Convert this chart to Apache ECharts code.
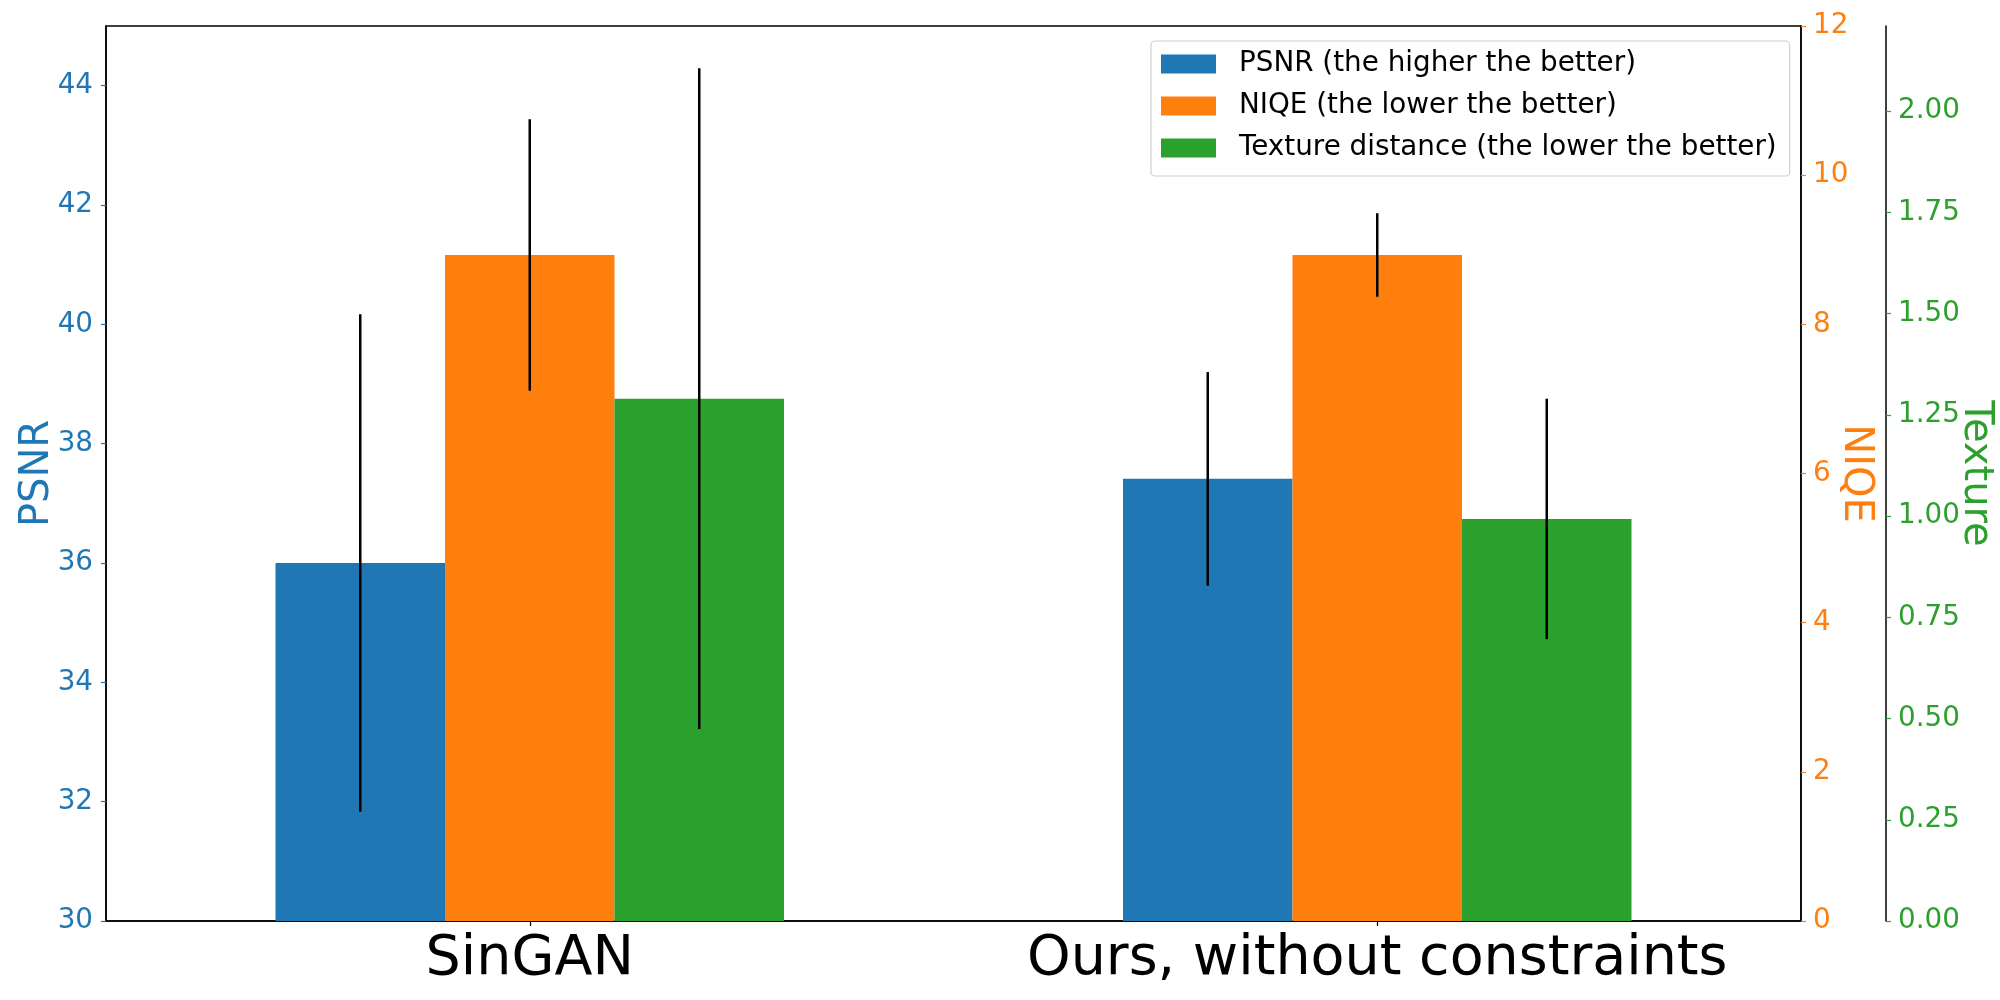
<!DOCTYPE html>
<html>
<head>
<meta charset="utf-8">
<script src="https://cdn.jsdelivr.net/npm/echarts@6/dist/echarts.min.js"></script>
<style>
html,body{margin:0;padding:0;background:#fff;}
#chart{width:2000px;height:1000px;}
</style>
</head>
<body>
<div id="chart"></div>
<script>
const categories = ['SinGAN', 'Ours, without constraints'];
const psnrValues = [36.00, 37.41];
const psnrErrors = [4.17, 1.79];
const niqeValues = [8.93, 8.93];
const niqeErrors = [1.82, 0.56];
const textureValues = [1.290, 0.993];
const textureErrors = [0.816, 0.297];
const psnrTicks = [30, 32, 34, 36, 38, 40, 42, 44];
const niqeTicks = [0, 2, 4, 6, 8, 10, 12];
const textureTicks = [0, 0.25, 0.5, 0.75, 1.0, 1.25, 1.5, 1.75, 2.0];
const legendNames = ['PSNR (the higher the better)', 'NIQE (the lower the better)', 'Texture distance (the lower the better)'];

const BLUE = '#1f77b4', ORANGE = '#ff7f0e', GREEN = '#2ca02c';
const FONT = 'DejaVu Sans';

function errSeries(values, errors, axisIndex, offset) {
  return {
    type: 'custom',
    yAxisIndex: axisIndex,
    z: 10,
    silent: true,
    data: values.map((v, i) => [i, v, errors[i]]),
    renderItem: function (params, api) {
      const idx = api.value(0), v = api.value(1), e = api.value(2);
      const band = api.size([1, 0])[0];
      const top = api.coord([idx, v + e]);
      const bot = api.coord([idx, v - e]);
      const x = top[0] + offset * band;
      return {
        type: 'line',
        shape: { x1: x, y1: top[1], x2: x, y2: bot[1] },
        style: { stroke: '#000', lineWidth: 2.5 }
      };
    }
  };
}

const chart = echarts.init(document.getElementById('chart'), null, { renderer: 'canvas' });
chart.setOption({
  animation: false,
  backgroundColor: '#fff',
  textStyle: { fontFamily: FONT },
  grid: { left: 106, right: 199, top: 26, bottom: 79, show: true, borderColor: '#000', borderWidth: 1.5,
    backgroundColor: 'transparent', containLabel: false, outerBoundsMode: 'none' },
  legend: {
    left: 1151, top: 41, orient: 'vertical',
    data: legendNames,
    icon: 'rect', itemWidth: 55, itemHeight: 19, itemGap: 14,
    padding: [9, 13, 14, 10],
    borderColor: '#d0d0d0', borderWidth: 1.2, borderRadius: 4,
    backgroundColor: 'rgba(255,255,255,0.8)',
    textStyle: { fontFamily: FONT, fontSize: 27.8, color: '#000', lineHeight: 28, padding: [0, 0, 0, 18] }
  },
  xAxis: {
    type: 'category', data: categories,
    axisLine: { show: true, lineStyle: { color: '#000', width: 1.5 } },
    axisTick: { show: true, alignWithLabel: true, length: 5, lineStyle: { color: '#000', width: 1.2 } },
    axisLabel: { fontFamily: FONT, fontSize: 55.5, color: '#000', margin: 11, interval: 0, hideOverlap: false },
    splitLine: { show: false }
  },
  yAxis: [
    {
      type: 'value', position: 'left', min: 30, max: 45,
      name: 'PSNR', nameLocation: 'middle', nameRotate: 90, nameGap: 48, nameMoveOverlap: false,
      nameTextStyle: { fontFamily: FONT, fontSize: 40, color: BLUE },
      axisLine: { show: true, lineStyle: { color: '#000', width: 1.5 } },
      axisTick: { show: true, length: 5, customValues: psnrTicks, lineStyle: { color: BLUE, width: 1.2 } },
      axisLabel: { fontFamily: FONT, fontSize: 27.8, color: BLUE, margin: 13, customValues: psnrTicks },
      splitLine: { show: false }
    },
    {
      type: 'value', position: 'right', offset: 0, min: 0, max: 12, interval: 2,
      name: 'NIQE', nameLocation: 'middle', nameRotate: -90, nameGap: 34, nameMoveOverlap: false,
      nameTextStyle: { fontFamily: FONT, fontSize: 40, color: ORANGE },
      axisLine: { show: true, lineStyle: { color: '#000', width: 1.5 } },
      axisTick: { show: true, length: 5, customValues: niqeTicks, lineStyle: { color: ORANGE, width: 1.2 } },
      axisLabel: { fontFamily: FONT, fontSize: 27.8, color: ORANGE, margin: 12, customValues: niqeTicks },
      splitLine: { show: false }
    },
    {
      type: 'value', position: 'right', offset: 85, min: 0, max: 2.2105,
      name: 'Texture', nameLocation: 'middle', nameRotate: -90, nameGap: 69, nameMoveOverlap: false,
      nameTextStyle: { fontFamily: FONT, fontSize: 40, color: GREEN },
      axisLine: { show: true, lineStyle: { color: '#000', width: 1.5 } },
      axisTick: { show: true, length: 5, customValues: textureTicks, lineStyle: { color: GREEN, width: 1.2 } },
      axisLabel: { fontFamily: FONT, fontSize: 27.8, color: GREEN, margin: 12, customValues: textureTicks,
        formatter: v => Number(v).toFixed(2) },
      splitLine: { show: false }
    }
  ],
  series: [
    { name: legendNames[0], type: 'bar', yAxisIndex: 0, data: psnrValues, barWidth: '20%', barGap: '0%', itemStyle: { color: BLUE } },
    { name: legendNames[1], type: 'bar', yAxisIndex: 1, data: niqeValues, barWidth: '20%', barGap: '0%', itemStyle: { color: ORANGE } },
    { name: legendNames[2], type: 'bar', yAxisIndex: 2, data: textureValues, barWidth: '20%', barGap: '0%', itemStyle: { color: GREEN } },
    errSeries(psnrValues, psnrErrors, 0, -0.2),
    errSeries(niqeValues, niqeErrors, 1, 0),
    errSeries(textureValues, textureErrors, 2, 0.2)
  ]
});
</script>
</body>
</html>
